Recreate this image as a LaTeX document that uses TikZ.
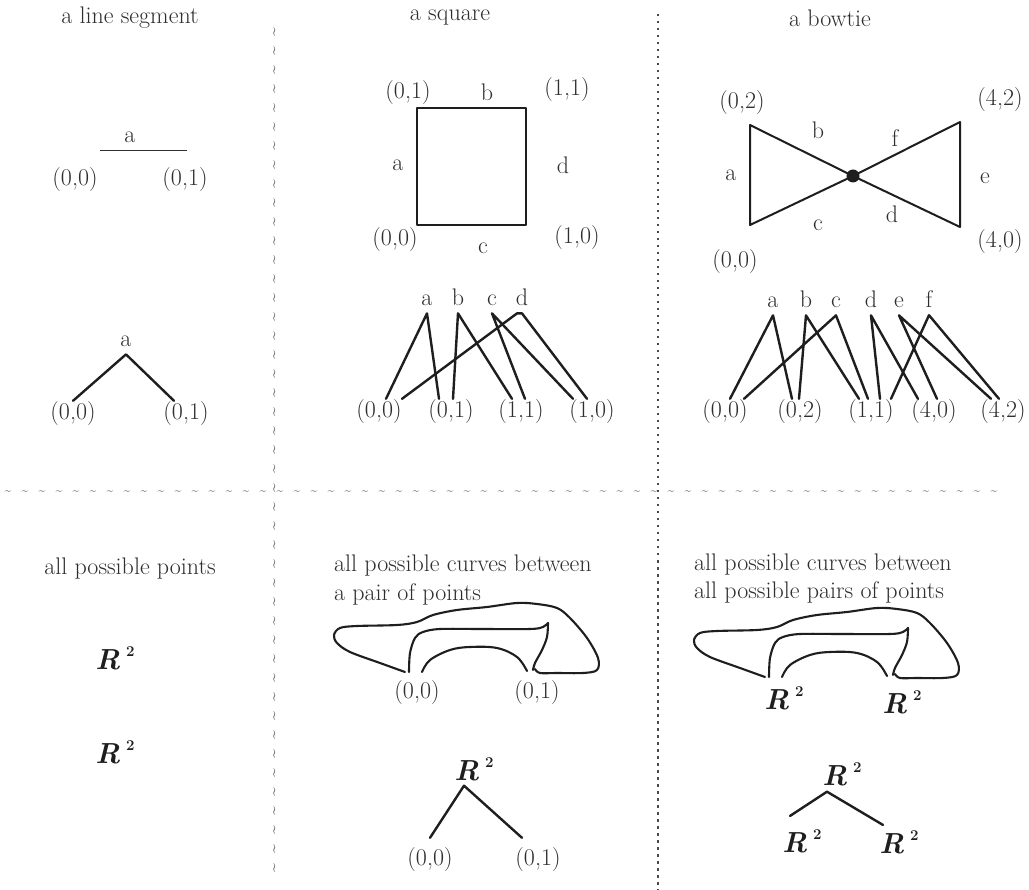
\documentclass[tikz,border=0pt]{standalone}
\usetikzlibrary{positioning, calc}
\definecolor{Ink}{HTML}{1E1E1E}
\definecolor{Pencil}{HTML}{2E2E2E}
\definecolor{Rule}{HTML}{4A4A4A}
\newcommand{\Rtwo}{\textbf{\textit{R}}\hspace{6pt}\raisebox{13pt}{\fontsize{15}{15}\selectfont\bfseries\upshape 2}}

\begin{document}
\begin{tikzpicture}[x=1pt, y=-1pt,
    lbl/.style={font=\fontsize{24}{28}\selectfont, text=Pencil, inner sep=1pt, anchor=base},
    letter/.style={lbl, inner ysep=7pt},
    tag/.style={lbl, anchor=center},
    rsq/.style={font=\fontsize{29}{30}\selectfont, text=Ink, inner sep=1pt, anchor=base},
    edge/.style={draw=Ink, line width=2.4pt, line cap=round, line join=round},
    thinedge/.style={draw=Pencil, line width=0.9pt},
    blob/.style={draw=Ink, line width=2.1pt, line cap=round, line join=round},
    wiggle/.style={font=\fontsize{16}{16}\selectfont\bfseries, text=Rule, inner sep=0pt},
    wave/.style={font=\fontsize{12}{12}\selectfont\bfseries, text=Rule, inner sep=0pt},
    dotrule/.style={draw=Rule, line width=2.8pt, dash pattern=on 2.5pt off 4.5pt}
]
\fill[white] (0,0) rectangle (1029,890);
\useasboundingbox (0,0) rectangle (1029,890);

% =============================================
% Dividers
% =============================================
\foreach \yy in {32,51,...,885}
    \node[wiggle, rotate=90] at (276,\yy) {\textasciitilde};
\draw[dotrule] (658,14) -- (658,890);
\foreach \xx in {8,25,...,1010}
    \node[wave] at (\xx,493) {\textasciitilde};

% =============================================
% TOP LEFT: a line segment
% =============================================
\node[tag] (segtitle) at (130,18) {a line segment};
\coordinate (s0) at (100,150);
\coordinate (s1) at (187,150);
\draw[thinedge] (s0) -- (s1);
\node[tag] (sa) at (130,137) {a};
\node[tag] (s00) at (75,180) {(0,0)};
\node[tag] (s01) at (185,180) {(0,1)};

\node[letter] (ta) at (126,347) {a};
\node[lbl] (t00) at (73,420) {(0,0)};
\node[lbl] (t01) at (186,420) {(0,1)};
\draw[edge] (t00.north) -- (ta.south) -- ([xshift=-12pt]t01.north);

% =============================================
% TOP MIDDLE: a square
% =============================================
\node[tag] (sqtitle) at (450,18) {a square};
\coordinate (q00) at (417,225);
\coordinate (q01) at (417,108);
\coordinate (q11) at (526,108);
\coordinate (q10) at (526,225);
\draw[edge, line width=2pt] (q00) -- (q01) -- (q11) -- (q10) -- cycle;
\node[tag] (lq01) at (408,93) {(0,1)};
\node[tag] (lqb) at (487,92) {b};
\node[tag] (lq11) at (567,90) {(1,1)};
\node[tag] (lqa) at (398,165) {a};
\node[tag] (lqd) at (563,165) {d};
\node[tag] (lq00) at (395,240) {(0,0)};
\node[tag] (lqc) at (483,248) {c};
\node[tag] (lq10) at (577,238) {(1,0)};

% edges -> end points
\node[letter] (ma) at (427,306) {a};
\node[letter] (mb) at (458,306) {b};
\node[letter] (mc) at (492,306) {c};
\node[letter] (md) at (522,306) {d};
\node[lbl] (m00) at (379,418) {(0,0)};
\node[lbl] (m01) at (451,418) {(0,1)};
\node[lbl] (m11) at (521,418) {(1,1)};
\node[lbl] (m10) at (592,418) {(1,0)};
\draw[edge] ([xshift=7pt]m00.north) -- (ma.south) -- ([xshift=-12pt]m01.north);
\draw[edge] ([xshift=2pt]m01.north) -- (mb.south) -- ([xshift=-9pt]m11.north);
\draw[edge] ([xshift=4pt]m11.north) -- (mc.south) -- ([xshift=-19pt]m10.north);
\draw[edge] ([xshift=23pt]m00.north) -- ([xshift=-5pt]md.south) -- (md.south)
    -- ([xshift=-5pt]m10.north);

% =============================================
% TOP RIGHT: a bowtie
% =============================================
\node[tag] (bwtitle) at (830,18) {a bowtie};
\coordinate (w02) at (750,125);
\coordinate (w00) at (750,225);
\coordinate (w42) at (960,122);
\coordinate (w40) at (960,227);
\node[circle, fill=Ink, minimum size=13pt, inner sep=0pt] (w11) at (853,176) {};
\draw[edge, line width=2pt] (w00) -- (w02) -- (w11.center) -- (w42) -- (w40) -- (w11.center) -- cycle;
\node[tag] (lw02) at (742,103) {(0,2)};
\node[tag] (lwb) at (818,130) {b};
\node[tag] (lwf) at (895,138) {f};
\node[tag] (lw42) at (1000,100) {(4,2)};
\node[tag] (lwa) at (731,175) {a};
\node[tag] (lwe) at (985,178) {e};
\node[tag] (lwc) at (818,225) {c};
\node[tag] (lwd) at (892,214) {d};
\node[tag] (lw00) at (735,262) {(0,0)};
\node[tag] (lw40) at (1000,242) {(4,0)};

% edges -> end points
\node[letter] (ra) at (773,308) {a};
\node[letter] (rb) at (806,308) {b};
\node[letter] (rc) at (836,308) {c};
\node[letter] (rd) at (871,308) {d};
\node[letter] (re) at (899,308) {e};
\node[letter] (rf) at (929,308) {f};
\node[lbl] (r00) at (725,418) {(0,0)};
\node[lbl] (r02) at (800,418) {(0,2)};
\node[lbl] (r11) at (871,418) {(1,1)};
\node[lbl] (r40) at (934,418) {(4,0)};
\node[lbl] (r42) at (1003,418) {(4,2)};
\draw[edge] ([xshift=5pt]r00.north) -- (ra.south) -- ([xshift=-8pt]r02.north);
\draw[edge] ([xshift=-1pt]r02.north) -- (rb.south) -- ([xshift=-12pt]r11.north);
\draw[edge] ([xshift=19pt]r00.north) -- (rc.south) -- ([xshift=-3pt]r11.north);
\draw[edge] ([xshift=9pt]r11.north) -- (rd.south) -- ([xshift=-16pt]r40.north);
\draw[edge] ([xshift=3pt]r40.north) -- (re.south) -- ([xshift=-12pt]r42.north);
\draw[edge] ([xshift=20pt]r11.north) -- (rf.south) -- ([xshift=-4pt]r42.north);

% =============================================
% BOTTOM LEFT: all possible points
% =============================================
\node[lbl] (ptstitle) at (130,575) {all possible points};
\node[rsq] (plA) at (115,669) {\Rtwo};
\node[rsq] (plB) at (115,763) {\Rtwo};

% =============================================
% BOTTOM MIDDLE / RIGHT: curves
% =============================================
\node[lbl, anchor=base west] (cvA) at (333,572) {all possible curves between};
\node[lbl, anchor=base west] (cvB) at (333,600) {a pair of points};
\node[lbl, anchor=base west] (cvC) at (693,570) {all possible curves between};
\node[lbl, anchor=base west] (cvD) at (693,598) {all possible pairs of points};

\foreach \dx/\dy in {0/0, 360/5} {
\begin{scope}[shift={(\dx,\dy)}]
    % outer loop
    \draw[blob] plot[smooth, tension=0.55] coordinates {
        (405,672) (380,663) (350,652) (337,643) (334,635) (340,628) (357,626)
        (397,625) (417,622) (433,615) (457,610) (487,607) (517,603) (537,604)
        (557,608) (570,618) (587,638) (598,658) (597,670) (583,673) (557,673)
        (540,673) (535,669)};
    % middle loop
    \draw[blob] plot[smooth, tension=0.55] coordinates {
        (409,672) (410,653) (415,638) (423,632) (440,629) (480,629) (530,629)
        (543,627) (548,623)};
    \draw[blob] plot[smooth, tension=0.55] coordinates {
        (548,623) (547,637) (542,650) (535,663) (533,670)};
    % inner arch
    \draw[blob] plot[smooth, tension=0.6] coordinates {
        (422,672) (430,660) (450,650) (470,647) (497,648) (517,657) (527,671)};
\end{scope}
}
\node[lbl] (b00) at (417,698) {(0,0)};
\node[lbl] (b01) at (537,698) {(0,1)};
\node[rsq] (bR1) at (784,709) {\Rtwo};
\node[rsq] (bR2) at (902,713) {\Rtwo};

% trees
\node[rsq] (kR) at (474,780) {\Rtwo};
\node[lbl] (k00) at (430,865) {(0,0)};
\node[lbl] (k01) at (538,865) {(0,1)};
\draw[edge] ([yshift=8pt]k00.north) -- ([xshift=-10pt, yshift=-4pt]kR.south)
    -- ([xshift=-16pt, yshift=8pt]k01.north);

\node[rsq] (jR) at (842,785) {\Rtwo};
\node[rsq] (jL) at (802,852) {\Rtwo};
\node[rsq] (jRt) at (899,853) {\Rtwo};
\draw[edge] ([xshift=-12pt, yshift=12pt]jL.north) -- ([xshift=-15pt, yshift=-5pt]jR.south)
    -- ([xshift=-16pt, yshift=4pt]jRt.north);

\end{tikzpicture}
\end{document}
